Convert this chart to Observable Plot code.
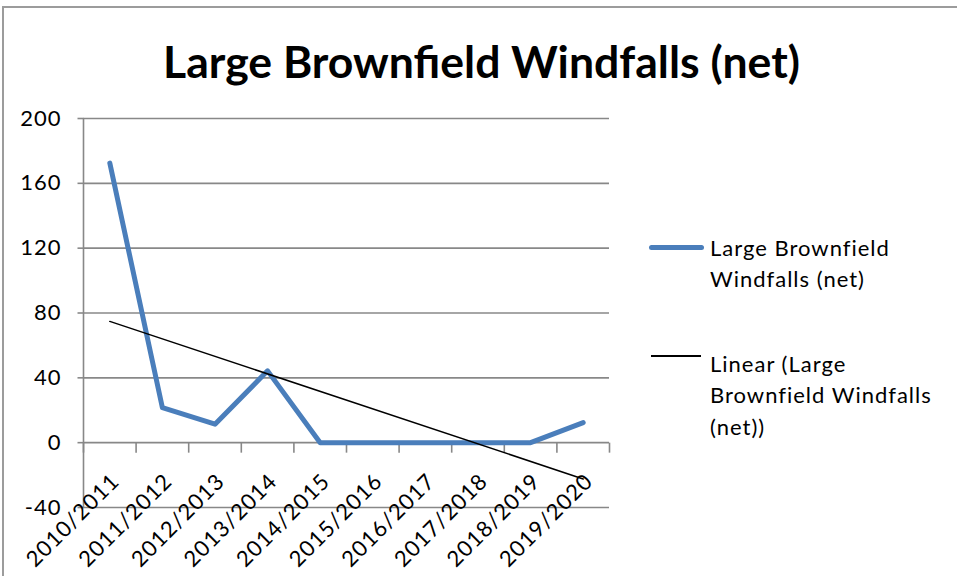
<!DOCTYPE html>
<html><head><meta charset="utf-8">
<script src="https://cdn.jsdelivr.net/npm/d3@7"></script>
<script src="https://cdn.jsdelivr.net/npm/@observablehq/plot@0.6"></script>
<style>
html,body{margin:0;padding:0;background:#fff;}
#chart{position:relative;width:957px;height:576px;overflow:hidden;font-family:Lato,"Open Sans",sans-serif;color:#000;}
#frame{position:absolute;left:2px;top:6px;width:1000px;height:1000px;border-left:2px solid #9c9c9c;border-top:2px solid #9c9c9c;}
#title{position:absolute;left:163px;top:39px;font-weight:bold;font-size:44px;line-height:44px;white-space:nowrap;transform-origin:0 0;}
#plot{position:absolute;left:0;top:0;}
.legtext{position:absolute;font-size:22px;line-height:31.5px;white-space:nowrap;letter-spacing:1px;}
.legline{position:absolute;}
</style>
</head><body>
<div id="chart">
  <div id="frame"></div>
  <div id="plot"></div>
  <div id="title"></div>
</div>
<script>
const categories = ["2010/2011","2011/2012","2012/2013","2013/2014","2014/2015","2015/2016","2016/2017","2017/2018","2018/2019","2019/2020"];
const values = [172.5, 21.6, 11.4, 44.3, 0, 0, 0, 0, 0, 12.4];
const yTicks = [-40, 0, 40, 80, 120, 160, 200];
const titleText = "Large Brownfield Windfalls (net)";
const seriesLegendLines = ["Large Brownfield", "Windfalls (net)"];
const trendLegendLines = ["Linear (Large", "Brownfield Windfalls", "(net))"];

const blue = "#4A7EBB";
const grid = "#888888";
const data = categories.map((c, i) => ({i, c, v: values[i]}));
const bounds = d3.range(categories.length + 1).map(k => k - 0.5);

const tickDown = {draw(ctx) { ctx.moveTo(0, 0); ctx.lineTo(0, 10); }};
const tickLeft = {draw(ctx) { ctx.moveTo(0, 0); ctx.lineTo(-6, 0); }};

const chart = Plot.plot({
  width: 957, height: 576,
  marginLeft: 83, marginRight: 348, marginTop: 118, marginBottom: 69,
  x: {type: "linear", domain: [-0.5, categories.length - 0.5], axis: null},
  y: {domain: [-40, 200], axis: null},
  style: {fontFamily: "Lato, 'Open Sans', sans-serif", fontSize: "22px", letterSpacing: "1px", color: "black", background: "transparent", overflow: "visible"},
  marks: [
    Plot.ruleY(yTicks, {stroke: grid, strokeWidth: 1.6}),
    Plot.ruleX([-0.5], {stroke: grid, strokeWidth: 1.6}),
    Plot.dot(yTicks, {y: d => d, frameAnchor: "left", symbol: tickLeft, fill: "none", stroke: grid, strokeWidth: 1.6}),
    Plot.dot(bounds, {x: d => d, y: () => 0, symbol: tickDown, fill: "none", stroke: grid, strokeWidth: 1.6}),
    Plot.text(yTicks, {y: d => d, frameAnchor: "left", text: d => String(d), textAnchor: "end", dx: -22, fill: "black"}),
    Plot.line(data, {x: "i", y: "v", stroke: blue, strokeWidth: 5, strokeLinejoin: "round", strokeLinecap: "round"}),
    Plot.linearRegressionY(data, {x: "i", y: "v", stroke: "black", strokeWidth: 1.5, ci: 0}),
    Plot.text(data, {x: "i", y: () => 0, text: "c", rotate: -45, textAnchor: "end", dx: 6, dy: 35, fill: "black"})
  ]
});
document.getElementById("plot").appendChild(chart);

// title
const t = document.getElementById("title");
t.textContent = titleText;
const w = t.getBoundingClientRect().width;
t.style.transform = `scaleX(${637 / w})`;

// legend
const chartDiv = document.getElementById("chart");
function addLine(left, top, width, height, color, radius) {
  const d = document.createElement("div");
  d.className = "legline";
  Object.assign(d.style, {left: left + "px", top: top + "px", width: width + "px", height: height + "px", background: color, borderRadius: radius + "px"});
  chartDiv.appendChild(d);
}
function addText(left, top, lines) {
  const d = document.createElement("div");
  d.className = "legtext";
  d.style.left = left + "px";
  d.style.top = top + "px";
  lines.forEach((s, k) => {
    if (k) d.appendChild(document.createElement("br"));
    d.appendChild(document.createTextNode(s));
  });
  chartDiv.appendChild(d);
}
addLine(649, 244.5, 55, 5, blue, 3);
addText(710, 231.5, seriesLegendLines);
addLine(651, 355, 50, 1.5, "#000", 0);
addText(710, 347.5, trendLegendLines);
</script>
</body></html>
